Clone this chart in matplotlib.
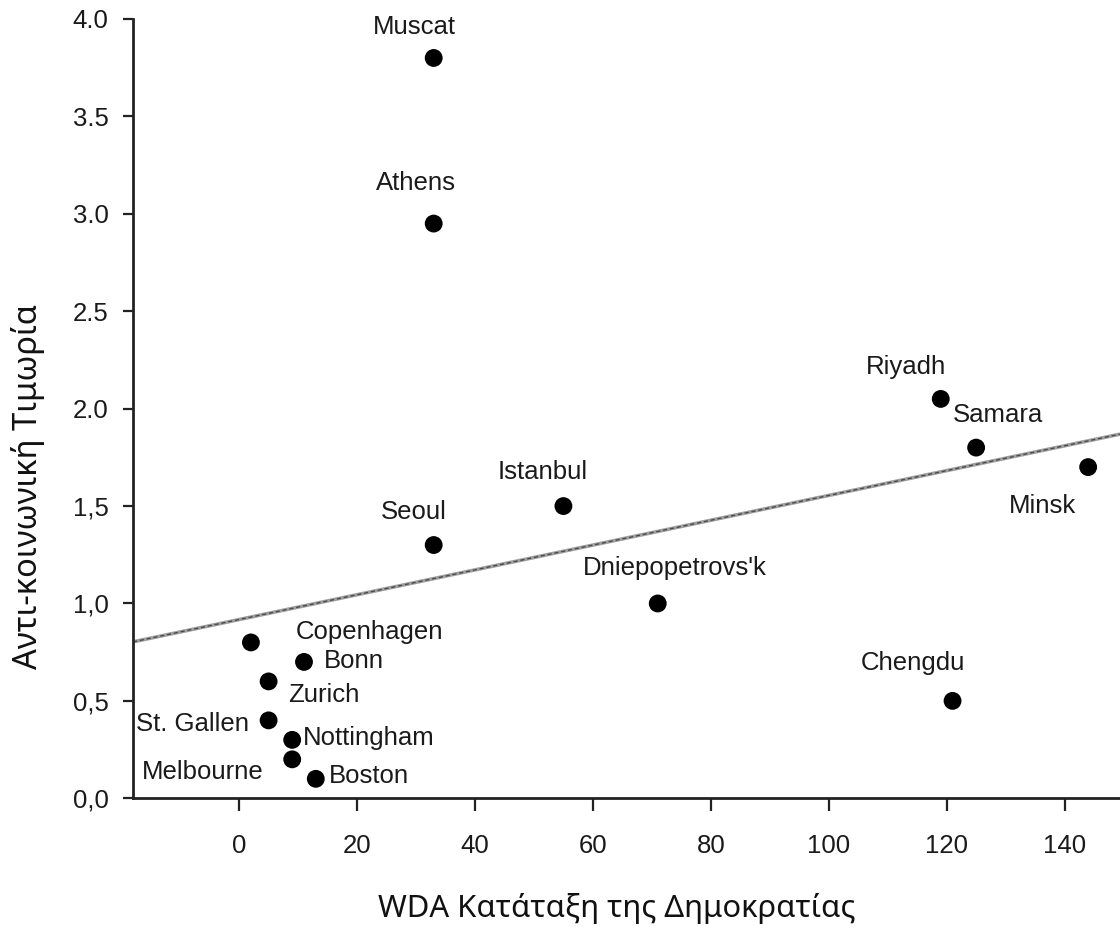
import numpy as np
import matplotlib
matplotlib.use("Agg")
import matplotlib.pyplot as plt

# ---- data ----
cities = ["Muscat", "Athens", "Seoul", "Istanbul", "Dniepopetrovs'k", "Riyadh",
          "Samara", "Minsk", "Chengdu", "Copenhagen", "Bonn", "Zurich",
          "St. Gallen", "Nottingham", "Melbourne", "Boston"]
wda_rank = [33, 33, 33, 55, 71, 119, 125, 144, 121, 2, 11, 5, 5, 9, 9, 13]
punishment = [3.80, 2.95, 1.30, 1.50, 1.00, 2.05, 1.80, 1.70, 0.50,
              0.80, 0.70, 0.60, 0.40, 0.30, 0.20, 0.10]
xticks = [0, 20, 40, 60, 80, 100, 120, 140]
yticks = [0.0, 0.5, 1.0, 1.5, 2.0, 2.5, 3.0, 3.5, 4.0]
ytick_labels = ["0,0", "0,5", "1,0", "1,5", "2.0", "2.5", "3.0", "3.5", "4.0"]
xlabel = "WDA Κατάταξη της Δημοκρατίας"
ylabel = "Αντι-κοινωνική Τιμωρία"

# label offsets in pixels (style)
offsets = {
    "Muscat": (-19, 31), "Athens": (-18, 41), "Seoul": (-20, 33),
    "Istanbul": (-21, 34), "Dniepopetrovs'k": (17, 35), "Riyadh": (-35, 32),
    "Samara": (22, 33), "Minsk": (-46, -39), "Chengdu": (-40, 38),
    "Copenhagen": (119, 10), "Bonn": (50, 1), "Zurich": (55, -14),
    "St. Gallen": (-76, -4), "Nottingham": (77, 2), "Melbourne": (-89, -13),
    "Boston": (53, 3),
}

fig = plt.figure(figsize=(11.2, 9.31), dpi=100)
ax = fig.add_axes([133 / 1120, 1 - 798.3 / 931, 1 - 133 / 1120, (798.3 - 19) / 931])

x = np.array(wda_rank, dtype=float)
y = np.array(punishment, dtype=float)

xmin, xmax = -18.0, 149.4
slope, intercept = np.polyfit(x, y, 1)
xl = np.array([xmin, xmax])
ax.plot(xl, slope * xl + intercept, color="#a0a0a0", lw=2.6, zorder=2, solid_capstyle="butt")
ax.plot(xl, slope * xl + intercept, color="#4a4a4a", lw=1.0, ls=(0, (3, 2)), zorder=2)

ax.scatter(x, y, s=165, color="black", zorder=3, edgecolors="none")

label_font = "Liberation Sans"
for c, xi, yi in zip(cities, x, y):
    dx, dy = offsets[c]
    ax.annotate(c, (xi, yi), xytext=(dx, dy), textcoords="offset pixels",
                ha="center", va="center", fontsize=18.5, family=label_font,
                color="#1a1a1a", zorder=4)

ax.set_xlim(xmin, xmax)
ax.set_ylim(0, 4.0)
ax.set_xticks(xticks)
ax.set_yticks(yticks)
ax.set_yticklabels(ytick_labels)

for sp in ["top", "right"]:
    ax.spines[sp].set_visible(False)
for sp in ["left", "bottom"]:
    ax.spines[sp].set_linewidth(2.0)
    ax.spines[sp].set_color("#222222")

ax.tick_params(axis="x", direction="out", length=9.5, width=1.6, color="#222222",
               pad=16, labelsize=18.5, labelcolor="#1a1a1a")
ax.tick_params(axis="y", direction="out", length=7, width=1.6, color="#222222",
               pad=10.5, labelsize=18.5, labelcolor="#1a1a1a")
for lab in ax.get_xticklabels() + ax.get_yticklabels():
    lab.set_family(label_font)

title_font = ["Noto Sans", "DejaVu Sans"]
ax.set_xlabel(xlabel, fontsize=22.3, family=title_font, color="#111111")
ax.xaxis.label.set_va("baseline")
ax.xaxis.set_label_coords((616.5 - 133) / 987, (798.3 - 917) / 779.3)

ax.set_ylabel(ylabel, fontsize=23.5, family=title_font, color="#111111")
ax.yaxis.label.set_va("baseline")
ax.yaxis.set_label_coords((37 - 133) / 987, (798.3 - 486.5) / 779.3)

fig.savefig("out.png", dpi=100)
